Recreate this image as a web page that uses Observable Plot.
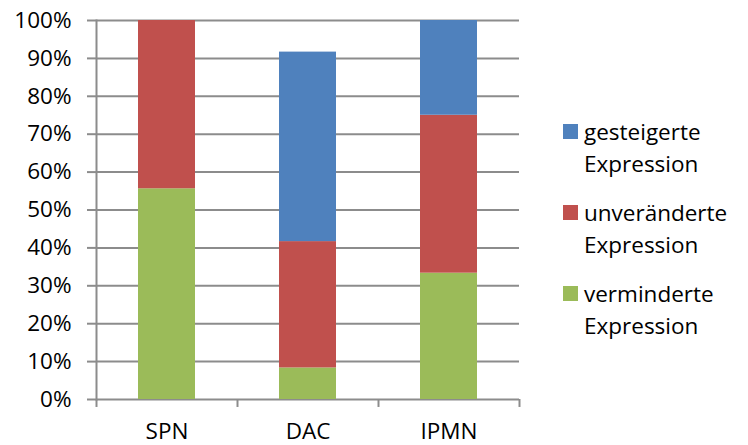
<!DOCTYPE html>
<html>
<head>
<meta charset="utf-8">
<script src="https://cdn.jsdelivr.net/npm/d3@7"></script>
<script src="https://cdn.jsdelivr.net/npm/@observablehq/plot@0.6"></script>
<style>
  html, body { margin: 0; padding: 0; background: #fff; }
  #chart { position: relative; width: 748px; height: 445px; font-family: "Open Sans", sans-serif; }
  #legend { position: absolute; left: 563px; top: 116px; font-size: 22.5px; line-height: 32px; color: #000; }
  .item { display: flex; align-items: flex-start; margin-bottom: 17px; }
  .sw { width: 15px; height: 15px; margin-top: 8px; margin-right: 6px; flex: none; }
</style>
</head>
<body>
<div id="chart"></div>
<script>
// Tumour groups on the x axis
const categories = ["SPN", "DAC", "IPMN"];
// Expression classes, bottom to top of each stack
const series = ["verminderte Expression", "unveränderte Expression", "gesteigerte Expression"];
// Share of cases per class and group
const verminderte = [0.556, 0.0833, 0.3333];
const unveraenderte = [0.444, 0.3333, 0.4167];
const gesteigerte = [0, 0.5, 0.25];
// y axis ticks
const yTicks = [0, 0.1, 0.2, 0.3, 0.4, 0.5, 0.6, 0.7, 0.8, 0.9, 1];
const palette = ["#9bbb59", "#c0504d", "#4f81bd"];

const rows = [];
[verminderte, unveraenderte, gesteigerte].forEach((vals, s) => {
  categories.forEach((c, i) => rows.push({category: c, series: series[s], value: vals[i]}));
});

const W = 748, H = 445, mL = 96, mR = 229, mT = 20, mB = 46;
const step = (W - mL - mR) / categories.length;
const grey = "#8c8c8c";

const plot = Plot.plot({
  width: W, height: H,
  marginTop: mT, marginBottom: mB, marginLeft: mL, marginRight: mR,
  style: {fontFamily: "'Open Sans', sans-serif", fontSize: "22.5px", color: "#000", background: "transparent"},
  x: {domain: categories, paddingInner: 0.596, paddingOuter: 0.298, label: null},
  y: {domain: [0, 1], label: null},
  color: {domain: series, range: palette},
  marks: [
    Plot.ruleY(yTicks, {stroke: grey, strokeWidth: 2}),
    Plot.frame({anchor: "left", stroke: grey, strokeWidth: 2}),
    Plot.barY(rows, {x: "category", y: "value", fill: "series", order: series}),
    // category boundary ticks below the x axis
    Plot.ruleX(categories, {x: d => d, y1: 0, y2: -0.021, dx: -step / 2, stroke: grey, strokeWidth: 2}),
    Plot.ruleX(categories.slice(-1), {x: d => d, y1: 0, y2: -0.021, dx: step / 2, stroke: grey, strokeWidth: 2}),
    Plot.axisY(yTicks, {tickSize: 9, tickPadding: 16, tickFormat: d3.format(".0%"), stroke: grey, strokeWidth: 2, fill: "#000"}),
    Plot.axisX({tickSize: 0, tickPadding: 24, fill: "#000"})
  ]
});

const chart = document.getElementById("chart");
chart.appendChild(plot);

// legend, top entry first
const legend = document.createElement("div");
legend.id = "legend";
series.slice().reverse().forEach(name => {
  const i = series.indexOf(name);
  const [first, second] = name.split(" ");
  const item = document.createElement("div");
  item.className = "item";
  item.innerHTML = `<div class="sw" style="background:${palette[i]}"></div><div>${first}<br>${second}</div>`;
  legend.appendChild(item);
});
chart.appendChild(legend);
</script>
</body>
</html>
